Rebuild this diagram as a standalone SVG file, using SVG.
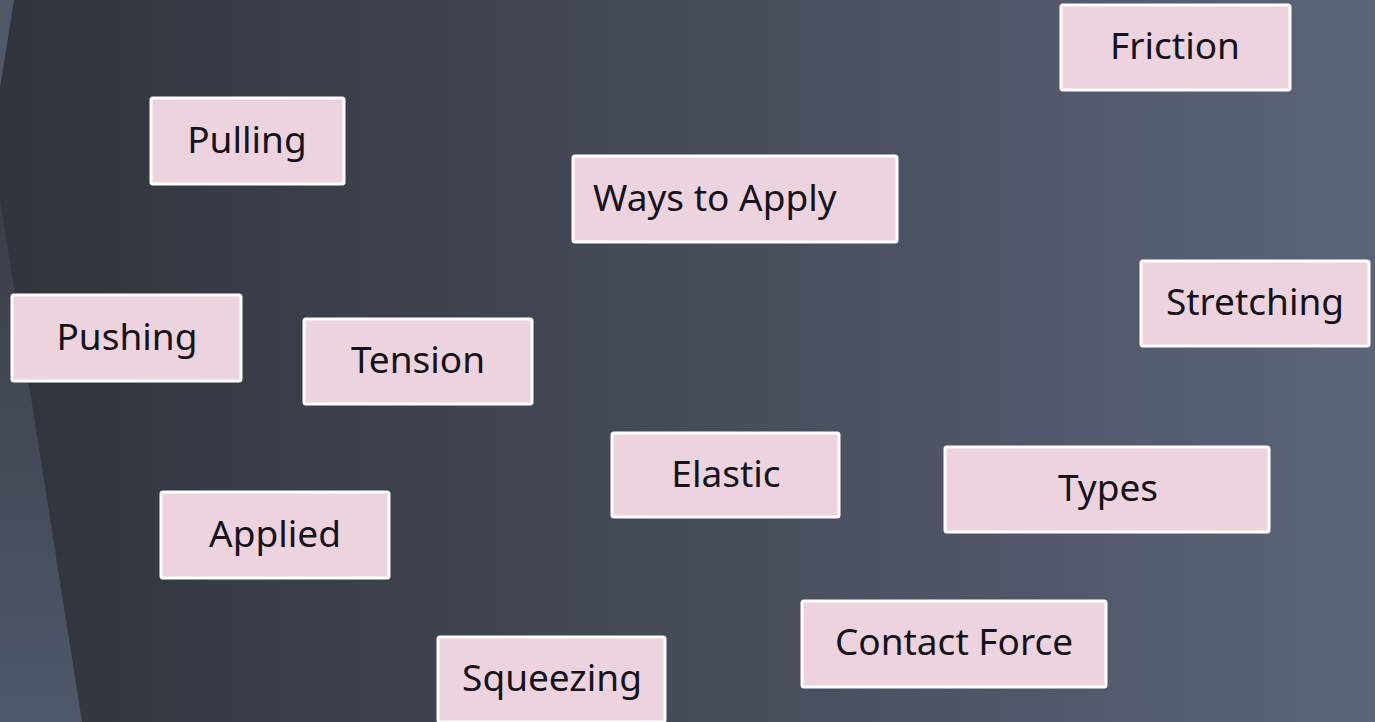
<svg xmlns="http://www.w3.org/2000/svg" width="1375" height="722" viewBox="0 0 1375 722">
<defs>
<linearGradient id="bg" x1="0" y1="0" x2="1" y2="0">
<stop offset="0" stop-color="#30343c"/>
<stop offset="0.5" stop-color="#454b58"/>
<stop offset="1" stop-color="#5b6479"/>
</linearGradient>
<linearGradient id="lp" x1="0" y1="0" x2="0" y2="1">
<stop offset="0" stop-color="#3a3e47"/>
<stop offset="1" stop-color="#4f586a"/>
</linearGradient>
<style>
.box{fill:#ecd3dd;stroke:#ffffff;stroke-width:3}
.t{font-family:"Noto Sans","DejaVu Sans",sans-serif;font-size:37px;fill:#14141a;text-anchor:middle}
</style>
</defs>
<rect width="1375" height="722" fill="url(#bg)"/>
<polygon points="0,0 14,0 0,88" fill="#50586a"/>
<polygon points="0,200 82,722 0,722" fill="url(#lp)"/>
<g id="connectors"/>
<g id="friction"><rect class="box" x="1061" y="5" width="229" height="85" rx="2"/><text class="t" x="1175" y="59">Friction</text></g>
<g id="pulling"><rect class="box" x="151" y="98" width="193" height="86" rx="2"/><text class="t" x="247" y="153">Pulling</text></g>
<g id="ways"><rect class="box" x="573" y="156" width="324" height="86" rx="2"/><text class="t" x="593" y="211" style="text-anchor:start">Ways to Apply</text></g>
<g id="stretching"><rect class="box" x="1141" y="261" width="228" height="85" rx="2"/><text class="t" x="1255" y="315">Stretching</text></g>
<g id="pushing"><rect class="box" x="12" y="295" width="229" height="86" rx="2"/><text class="t" x="127" y="350">Pushing</text></g>
<g id="tension"><rect class="box" x="304" y="319" width="228" height="85" rx="2"/><text class="t" x="418" y="373">Tension</text></g>
<g id="elastic"><rect class="box" x="612" y="433" width="227" height="84" rx="2"/><text class="t" x="726" y="487">Elastic</text></g>
<g id="types"><rect class="box" x="945" y="447" width="324" height="85" rx="2"/><text class="t" x="1108" y="501">Types</text></g>
<g id="applied"><rect class="box" x="161" y="492" width="228" height="86" rx="2"/><text class="t" x="275" y="547">Applied</text></g>
<g id="contact"><rect class="box" x="802" y="601" width="304" height="86" rx="2"/><text class="t" x="954" y="655">Contact Force</text></g>
<g id="squeezing"><rect class="box" x="438" y="637" width="227" height="85" rx="2"/><text class="t" x="552" y="691">Squeezing</text></g>
</svg>
